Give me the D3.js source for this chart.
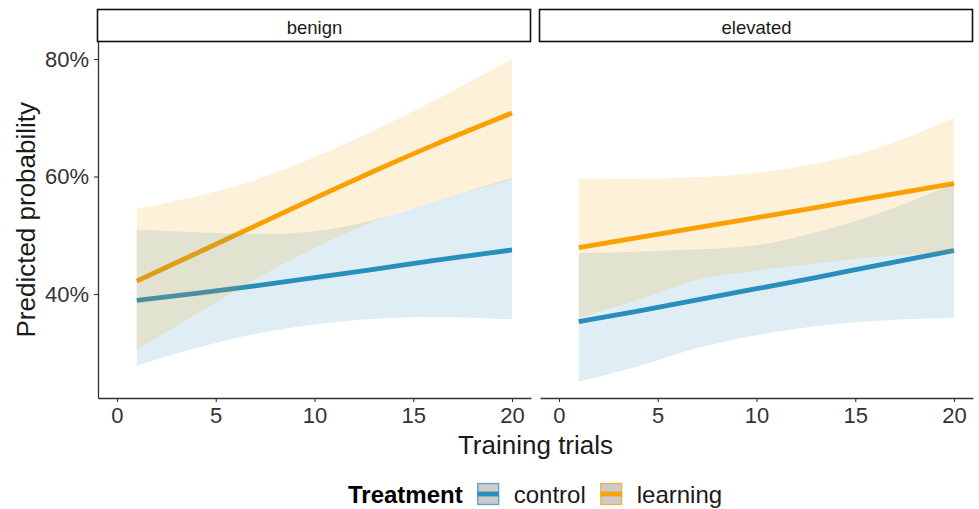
<!DOCTYPE html>
<html>
<head>
<meta charset="utf-8">
<script src="https://cdn.jsdelivr.net/npm/d3@7"></script>
<style>
  html, body { margin: 0; padding: 0; background: #fff; }
  svg { display: block; font-family: "Liberation Sans", Arial, sans-serif; }
</style>
</head>
<body>
<svg id="chart" width="979" height="509"></svg>
<script>
// Predicted probability by number of training trials, per threat level and treatment
const trials = [1, 4, 7, 10, 13, 16, 20];
const panels = ["benign", "elevated"];
const treatments = ["control", "learning"];

// benign panel
const benignControlFit  = [0.389, 0.401, 0.414, 0.428, 0.442, 0.457, 0.475];
const benignControlLow  = [0.278, 0.308, 0.332, 0.348, 0.358, 0.361, 0.357];
const benignControlHigh = [0.510, 0.505, 0.502, 0.507, 0.526, 0.556, 0.598];
const benignLearningFit  = [0.422, 0.469, 0.516, 0.563, 0.609, 0.653, 0.708];
const benignLearningLow  = [0.306, 0.365, 0.425, 0.478, 0.524, 0.556, 0.595];
const benignLearningHigh = [0.545, 0.566, 0.594, 0.633, 0.678, 0.728, 0.800];

// elevated panel
const elevatedControlFit  = [0.353, 0.371, 0.390, 0.409, 0.428, 0.448, 0.474];
const elevatedControlLow  = [0.251, 0.277, 0.308, 0.330, 0.345, 0.354, 0.359];
const elevatedControlHigh = [0.470, 0.472, 0.476, 0.483, 0.505, 0.535, 0.588];
const elevatedLearningFit  = [0.479, 0.496, 0.513, 0.530, 0.547, 0.565, 0.588];
const elevatedLearningLow  = [0.360, 0.390, 0.424, 0.440, 0.452, 0.463, 0.470];
const elevatedLearningHigh = [0.597, 0.596, 0.599, 0.606, 0.622, 0.647, 0.700];

const xTicks = [0, 5, 10, 15, 20];
const yTicks = [0.4, 0.6, 0.8];

const colors = { control: "#2B8FBD", learning: "#FBA200" };

const series = {
  benign: {
    control:  { fit: benignControlFit,  low: benignControlLow,  high: benignControlHigh },
    learning: { fit: benignLearningFit, low: benignLearningLow, high: benignLearningHigh }
  },
  elevated: {
    control:  { fit: elevatedControlFit,  low: elevatedControlLow,  high: elevatedControlHigh },
    learning: { fit: elevatedLearningFit, low: elevatedLearningLow, high: elevatedLearningHigh }
  }
};

const svg = d3.select("#chart");
const font = "'Liberation Sans', Arial, sans-serif";

// panel geometry
const panelLefts = [98, 540];
const panelW = 433;
const panelTop = 41.5, panelBottom = 398;
const stripTop = 9.5;

const y = d3.scaleLinear().domain([0.2230, 0.8298]).range([panelBottom, panelTop]);

panels.forEach((name, i) => {
  const x0 = panelLefts[i];
  const x = d3.scaleLinear().domain([-0.962, 20.962]).range([x0, x0 + panelW]);
  const g = svg.append("g");

  const pts = (arr) => trials.map((t, k) => ({ t, v: arr[k] }));

  const line = d3.line().x(d => x(d.t)).y(d => y(d.v)).curve(d3.curveMonotoneX);
  const area = d3.area()
    .x(d => x(d.t))
    .y0(d => y(d.lo))
    .y1(d => y(d.hi))
    .curve(d3.curveMonotoneX);

  // fitted lines first
  treatments.forEach(tr => {
    g.append("path")
      .attr("d", line(pts(series[name][tr].fit)))
      .attr("fill", "none")
      .attr("stroke", colors[tr])
      .attr("stroke-width", 4.8)
      .attr("stroke-linecap", "butt");
  });

  // confidence ribbons drawn over them
  treatments.forEach(tr => {
    const s = series[name][tr];
    const band = trials.map((t, k) => ({ t, lo: s.low[k], hi: s.high[k] }));
    g.append("path")
      .attr("d", area(band))
      .attr("fill", colors[tr])
      .attr("fill-opacity", 0.15)
      .attr("stroke", "none");
  });

  // x axis
  const xAxis = d3.axisBottom(x).tickValues(xTicks).tickSize(4).tickSizeOuter(0)
    .tickPadding(5).tickFormat(d3.format("d"));
  const ax = svg.append("g").attr("transform", `translate(0,${panelBottom})`).call(xAxis);
  ax.select(".domain").attr("stroke", "#333").attr("stroke-width", 1.3);
  ax.selectAll(".tick line").attr("stroke", "#333").attr("stroke-width", 1.1);
  ax.selectAll(".tick text")
    .attr("fill", "#333")
    .attr("font-size", 22)
    .attr("font-family", font);

  // strip
  svg.append("rect")
    .attr("x", x0 - 0.5).attr("y", stripTop)
    .attr("width", panelW).attr("height", panelTop - stripTop)
    .attr("fill", "#fff").attr("stroke", "#111").attr("stroke-width", 1.6);
  svg.append("text")
    .attr("x", x0 + panelW / 2).attr("y", 33.5)
    .attr("text-anchor", "middle")
    .attr("font-size", 18.5)
    .attr("font-family", font)
    .attr("fill", "#1a1a1a")
    .text(name);
});

// y axis on the left panel only
const yAxis = d3.axisLeft(y).tickValues(yTicks).tickSize(4).tickSizeOuter(0)
  .tickPadding(5).tickFormat(d3.format(".0%"));
const ay = svg.append("g").attr("transform", `translate(${panelLefts[0]},0)`).call(yAxis);
ay.select(".domain").attr("stroke", "#333").attr("stroke-width", 1.3);
ay.selectAll(".tick line").attr("stroke", "#333").attr("stroke-width", 1.1);
ay.selectAll(".tick text")
  .attr("fill", "#333")
  .attr("font-size", 22)
  .attr("font-family", font);

// axis titles
svg.append("text")
  .attr("x", (panelLefts[0] + panelLefts[1] + panelW) / 2)
  .attr("y", 454)
  .attr("text-anchor", "middle")
  .attr("font-size", 26)
  .attr("font-family", font)
  .attr("fill", "#1a1a1a")
  .text("Training trials");

svg.append("text")
  .attr("transform", `translate(35,${(panelTop + panelBottom) / 2}) rotate(-90)`)
  .attr("text-anchor", "middle")
  .attr("font-size", 26)
  .attr("font-family", font)
  .attr("fill", "#1a1a1a")
  .text("Predicted probability");

// legend
const legend = svg.append("g");
const legY = 503;
const title = legend.append("text")
  .attr("x", 348).attr("y", legY)
  .attr("font-size", 24).attr("font-weight", "bold")
  .attr("font-family", font).attr("fill", "#000")
  .text("Treatment");
let cursor = 348 + title.node().getComputedTextLength() + 15;
treatments.forEach(tr => {
  legend.append("rect")
    .attr("x", cursor).attr("y", 483.5)
    .attr("width", 21).attr("height", 21)
    .attr("fill", "#cbcbcb")
    .attr("stroke", colors[tr]).attr("stroke-opacity", 0.75).attr("stroke-width", 1.3);
  legend.append("line")
    .attr("x1", cursor).attr("x2", cursor + 21)
    .attr("y1", 494).attr("y2", 494)
    .attr("stroke", colors[tr]).attr("stroke-width", 4.8);
  const t = legend.append("text")
    .attr("x", cursor + 21 + 15).attr("y", legY)
    .attr("font-size", 24)
    .attr("font-family", font).attr("fill", "#1a1a1a")
    .text(tr);
  cursor = cursor + 21 + 15 + t.node().getComputedTextLength() + 15;
});
</script>
</body>
</html>
